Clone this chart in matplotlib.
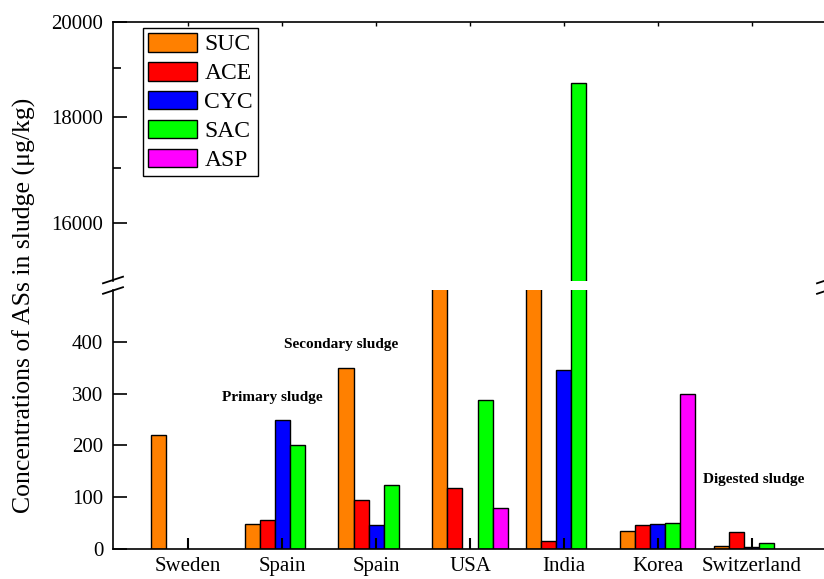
import numpy as np
import matplotlib
matplotlib.use("Agg")
import matplotlib.pyplot as plt
from matplotlib.lines import Line2D
from matplotlib.ticker import NullFormatter

plt.rcParams['font.family'] = ['Liberation Serif', 'DejaVu Serif']

# Data (ug/kg), nan = not reported
countries = ['Sweden', 'Spain', 'Spain', 'USA', 'India', 'Korea', 'Switzerland']
sweeteners = ['SUC', 'ACE', 'CYC', 'SAC', 'ASP']
suc = [220, 48, 350, 1500, 1500, 34, 6]
ace = [np.nan, 56, 94, 117, 16, 47, 32]
cyc = [np.nan, 250, 46, np.nan, 345, 49, 3]
sac = [np.nan, 200, 124, 287, 18700, 50, 12]
asp = [np.nan, np.nan, np.nan, 80, np.nan, 300, np.nan]
colors = ['#FF8000', '#FF0000', '#0000FF', '#00FF00', '#FF00FF']

W, H = 824, 579
fig = plt.figure(figsize=(W / 100, H / 100), dpi=100)

def frac_box(left, top, right, bottom):
    return [left / W, 1 - bottom / H, (right - left) / W, (bottom - top) / H]

ax_top = fig.add_axes(frac_box(113, 22, 827, 281))
ax_bot = fig.add_axes(frac_box(113, 290, 827, 549))

x = np.arange(len(countries))
width = 0.16
series = [suc, ace, cyc, sac, asp]
handles = []
for i, vals in enumerate(series):
    offs = x + (i - 2) * width
    for ax in (ax_top, ax_bot):
        b = ax.bar(offs, vals, width=width, color=colors[i], edgecolor='black',
                   linewidth=1.0, label=sweeteners[i])
    handles.append(b)

# upper part: log scale
ax_top.set_yscale('log')
ax_top.set_ylim(15000, 20000)
ax_top.set_yticks([16000, 18000, 20000], ['16000', '18000', '20000'])
ax_top.set_yticks([17000, 19000], minor=True)
ax_top.yaxis.set_minor_formatter(NullFormatter())

# lower part: linear
ax_bot.set_ylim(0, 500)
ax_bot.set_yticks([0, 100, 200, 300, 400])

for ax in (ax_top, ax_bot):
    ax.set_xlim(-0.8, 6.8)
    ax.spines['right'].set_visible(False)
    for s in ax.spines.values():
        s.set_linewidth(1.2)
    ax.tick_params(axis='y', which='major', direction='in', length=10, width=1.2,
                   labelsize=15, pad=7)
    ax.tick_params(axis='y', which='minor', direction='in', length=6, width=1.2)

ax_top.spines['bottom'].set_visible(False)
ax_bot.spines['top'].set_visible(False)

ax_top.set_xticks(x)
ax_top.tick_params(axis='x', which='both', bottom=False, top=True, labelbottom=False,
                   direction='in', length=3, width=1.0)
ax_bot.set_xticks(x, countries)
ax_bot.tick_params(axis='x', direction='in', length=8, width=1.5, labelsize=15, pad=6)
ax_bot.tick_params(axis='y', which='minor', left=False)

# break marks
for xp in (113, 827):
    for yp in (280, 290.5):
        fig.add_artist(Line2D([(xp - 10) / W, (xp + 10) / W],
                              [1 - (yp + 3.3) / H, 1 - (yp - 3.3) / H],
                              color='black', linewidth=1.3))

# labels
ax_bot.text(0.9, 292, 'Primary sludge', fontsize=11, fontweight='bold', ha='center', va='center')
ax_bot.text(1.63, 394, 'Secondary sludge', fontsize=11, fontweight='bold', ha='center', va='center')
ax_bot.text(6.02, 135, 'Digested sludge', fontsize=11, fontweight='bold', ha='center', va='center')

fig.text(24 / W, 1 - 305 / H, 'Concentrations of ASs in sludge (\u03bcg/kg)', rotation=90,
         ha='center', va='center', fontsize=18.5)

leg = ax_top.legend(handles, sweeteners, loc='upper left',
                    bbox_to_anchor=(143 / W, 1 - 28 / H), bbox_transform=fig.transFigure,
                    borderaxespad=0, fontsize=17, fancybox=False, edgecolor='black',
                    framealpha=1, handlelength=2.1, handleheight=0.85, labelspacing=0.27,
                    handletextpad=0.3, borderpad=0.2)
leg.get_frame().set_linewidth(1.0)

fig.savefig('out.png', dpi=100)
